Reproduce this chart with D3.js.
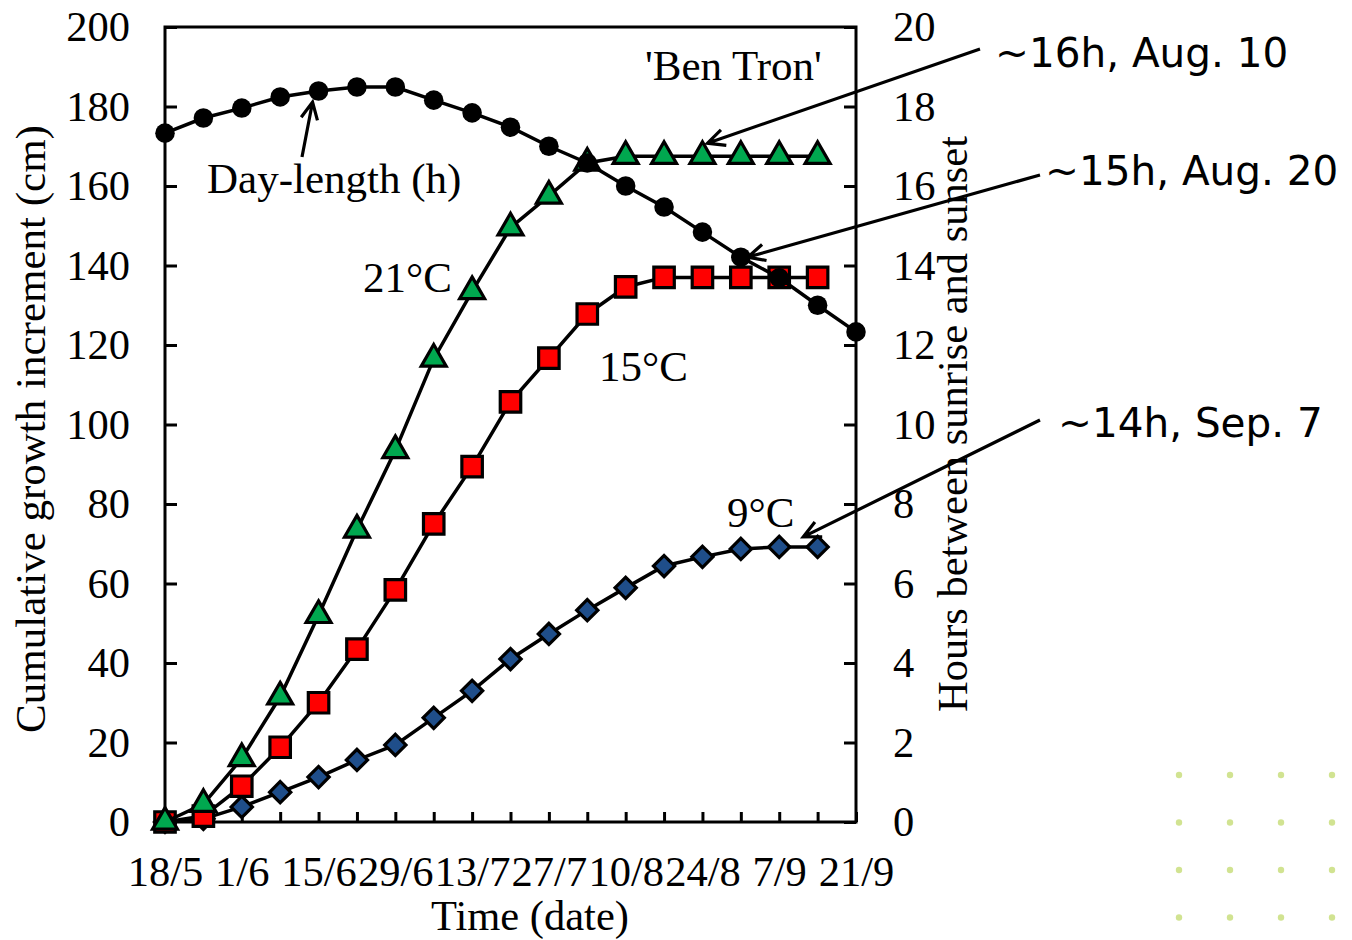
<!DOCTYPE html>
<html>
<head>
<meta charset="utf-8">
<script src="https://cdn.jsdelivr.net/npm/d3@7"></script>
<style>
  body { margin: 0; background: #fff; }
  svg { display: block; }
  .serif { font-family: "Liberation Serif", "Times New Roman", serif; }
  .sans { font-family: "DejaVu Sans", Verdana, sans-serif; }
</style>
</head>
<body>
<div id="chart"></div>
<script>
// weekly sampling dates (dd/m)
var dates = ["18/5","25/5","1/6","8/6","15/6","22/6","29/6","6/7","13/7","20/7",
             "27/7","3/8","10/8","17/8","24/8","31/8","7/9","14/9","21/9"];
var tickLabels = ["18/5","1/6","15/6","29/6","13/7","27/7","10/8","24/8","7/9","21/9"];

// cumulative growth increment (cm), one value per week from 18/5 to 14/9
var growth21 = [0, 4.5, 16, 31.5, 52, 73.5, 93.5, 116.5, 133.5, 149.5, 157.5, 165.8, 167.5, 167.5, 167.5, 167.5, 167.5, 167.5];
var growth15 = [0, 1.5, 9, 18.8, 30, 43.5, 58.4, 75, 89.4, 105.7, 116.7, 127.8, 134.6, 137, 137, 137, 137, 137];
var growth9  = [0, 0.8, 3.8, 7.5, 11.3, 15.6, 19.4, 26.2, 33, 41, 47.3, 53.3, 58.9, 64.4, 66.7, 68.7, 69.2, 69.2];

// hours between sunrise and sunset, 18/5 to 21/9
var dayLength = [17.33, 17.71, 17.96, 18.24, 18.39, 18.49, 18.49, 18.16, 17.84, 17.48,
                 17.0, 16.58, 16.0, 15.47, 14.84, 14.21, 13.69, 13.0, 12.33];

var leftTicks = [0, 20, 40, 60, 80, 100, 120, 140, 160, 180, 200];
var rightTicks = [0, 2, 4, 6, 8, 10, 12, 14, 16, 18, 20];

var W = 1352, H = 940;
var plotLeft = 165, plotRight = 856, plotTop = 27, plotBottom = 822;

var svg = d3.select("#chart").append("svg")
  .attr("width", W)
  .attr("height", H);

var x = d3.scalePoint().domain(dates).range([plotLeft, plotRight]);
var yL = d3.scaleLinear().domain([0, 200]).range([plotBottom, plotTop]);
var yR = d3.scaleLinear().domain([0, 20]).range([plotBottom, plotTop]);

/* decorative dots (slide background) */
var dotX = d3.range(4).map(function(i) { return 1179 + i * 51; });
var dotY = d3.range(4).map(function(i) { return 775 + i * 47.5; });
dotY.forEach(function(yy) {
  dotX.forEach(function(xx) {
    svg.append("circle").attr("cx", xx).attr("cy", yy).attr("r", 3.2)
      .attr("fill", "#c9de7e").attr("opacity", 0.85);
  });
});

/* axes */
var axL = svg.append("g")
  .attr("transform", "translate(" + plotLeft + ",0)")
  .call(d3.axisLeft(yL).tickValues(leftTicks).tickSize(-12).tickPadding(35));
var axR = svg.append("g")
  .attr("transform", "translate(" + plotRight + ",0)")
  .call(d3.axisRight(yR).tickValues(rightTicks).tickSize(-12).tickPadding(37));
var axB = svg.append("g")
  .attr("transform", "translate(0," + plotBottom + ")")
  .call(d3.axisBottom(x).tickSize(-10).tickPadding(34)
    .tickFormat(function(d) { return tickLabels.indexOf(d) >= 0 ? d : ""; }));

[axL, axR, axB].forEach(function(ax) {
  ax.select(".domain").remove();
  ax.selectAll("line").attr("stroke", "#000").attr("stroke-width", 3);
  ax.selectAll("text").attr("fill", "#000")
    .style("font-family", "'Liberation Serif', 'Times New Roman', serif")
    .style("font-size", "42.5px");
});

// frame
svg.append("rect")
  .attr("x", plotLeft).attr("y", plotTop)
  .attr("width", plotRight - plotLeft).attr("height", plotBottom - plotTop)
  .attr("fill", "none").attr("stroke", "#000").attr("stroke-width", 3);

/* axis titles */
svg.append("text").attr("class", "serif")
  .attr("transform", "translate(45,429) rotate(-90)")
  .attr("text-anchor", "middle")
  .style("font-size", "43px")
  .text("Cumulative growth increment (cm)");

svg.append("text").attr("class", "serif")
  .attr("transform", "translate(967,424) rotate(-90)")
  .attr("text-anchor", "middle")
  .style("font-size", "42.5px")
  .text("Hours between sunrise and sunset");

svg.append("text").attr("class", "serif")
  .attr("x", 530).attr("y", 930)
  .attr("text-anchor", "middle")
  .style("font-size", "42.5px")
  .text("Time (date)");

/* series */
function drawSeries(values, yScale, symbol, fill, rotate) {
  var pts = values.map(function(v, i) { return [dates[i], v]; });
  var line = d3.line()
    .x(function(d) { return x(d[0]); })
    .y(function(d) { return yScale(d[1]); });
  svg.append("path").datum(pts)
    .attr("d", line)
    .attr("fill", "none")
    .attr("stroke", "#000")
    .attr("stroke-width", 3.5);
  svg.append("g").selectAll("path")
    .data(pts)
    .enter()
    .append("path")
    .attr("d", symbol)
    .attr("transform", function(d) {
      return "translate(" + x(d[0]) + "," + yScale(d[1]) + ")" + (rotate ? " rotate(45)" : "");
    })
    .attr("fill", fill)
    .attr("stroke", "#000")
    .attr("stroke-width", fill == "#000" ? 0 : 3.2)
    .attr("stroke-linejoin", "miter");
}

drawSeries(growth9, yL, d3.symbol().type(d3.symbolSquare).size(225)(), "#1f4e8a", true);
drawSeries(growth15, yL, d3.symbol().type(d3.symbolSquare).size(420)(), "#ff0000", false);
drawSeries(growth21, yL, d3.symbol().type(d3.symbolTriangle).size(270)(), "#00a84f", false);
drawSeries(dayLength, yR, d3.symbol().type(d3.symbolCircle).size(300)(), "#000", false);

/* labels inside the plot */
function serifLabel(txt, xx, yy) {
  svg.append("text").attr("class", "serif")
    .attr("x", xx).attr("y", yy)
    .style("font-size", "43px")
    .text(txt);
}
serifLabel("'Ben Tron'", 645, 80);
serifLabel("Day-length (h)", 207, 193);
serifLabel("21°C", 363, 292);
serifLabel("15°C", 599, 381);
serifLabel("9°C", 727, 527);

/* arrows */
function arrow(x1, y1, x2, y2) {
  var a = Math.atan2(y2 - y1, x2 - x1);
  var len = 19, spread = 0.45;
  var hx1 = x2 - len * Math.cos(a - spread), hy1 = y2 - len * Math.sin(a - spread);
  var hx2 = x2 - len * Math.cos(a + spread), hy2 = y2 - len * Math.sin(a + spread);
  svg.append("path")
    .attr("d", "M" + x1 + "," + y1 + "L" + x2 + "," + y2 +
               "M" + hx1 + "," + hy1 + "L" + x2 + "," + y2 + "L" + hx2 + "," + hy2)
    .attr("fill", "none")
    .attr("stroke", "#000")
    .attr("stroke-width", 3.2);
}

arrow(302, 157, x("15/6") - 6, yR(dayLength[4]) + 11);
arrow(980, 49, x("24/8") + 5, yL(growth21[14]) - 13);
arrow(1040, 175, x("31/8") + 7, yR(dayLength[15]));
arrow(1040, 420, x("7/9") + 24, yL(growth9[16]) - 10);

/* annotations */
function sansLabel(txt, xx, yy) {
  svg.append("text").attr("class", "sans")
    .attr("x", xx).attr("y", yy)
    .style("font-size", "40.5px")
    .text(txt);
}
sansLabel("~16h, Aug. 10", 995, 67);
sansLabel("~15h, Aug. 20", 1045, 185);
sansLabel("~14h, Sep. 7", 1058, 437);
</script>
</body>
</html>
